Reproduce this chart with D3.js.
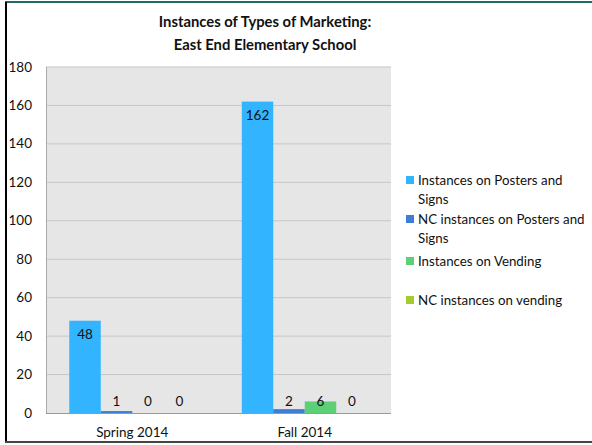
<!DOCTYPE html>
<html>
<head>
<meta charset="utf-8">
<script src="https://cdn.jsdelivr.net/npm/d3@7"></script>
<style>
  body { margin: 0; background: #fff; }
  text { font-family: Lato, "Open Sans", sans-serif; fill: #111; }
</style>
</head>
<body>
<div id="chart-area"></div>
<script>
var categories = ["Spring 2014", "Fall 2014"];
var seriesNames = ["Instances on Posters and Signs", "NC instances on Posters and Signs",
                   "Instances on Vending", "NC instances on vending"];
var posters = [48, 162];
var ncPosters = [1, 2];
var vending = [0, 6];
var ncVending = [0, 0];
var yTicks = [0, 20, 40, 60, 80, 100, 120, 140, 160, 180];
var colors = ["#33b4fe", "#3d7dd6", "#5dcf77", "#a5cb31"];

var values = [posters, ncPosters, vending, ncVending];

var svg = d3.select("#chart-area").append("svg")
    .attr("width", 592)
    .attr("height", 445);

// frame
svg.append("line").attr("x1", 5).attr("x2", 592).attr("y1", 2).attr("y2", 2)
    .attr("stroke", "#1e6b68").attr("stroke-width", 2);
svg.append("line").attr("x1", 6).attr("x2", 6).attr("y1", 2).attr("y2", 443)
    .attr("stroke", "#000").attr("stroke-width", 2);
svg.append("line").attr("x1", 5).attr("x2", 592).attr("y1", 442).attr("y2", 442)
    .attr("stroke", "#444").attr("stroke-width", 2);

var plotL = 46, plotR = 391, plotT = 67, plotB = 413;

var x = d3.scaleBand().domain(categories).range([plotL, plotR]);
var x1 = d3.scaleBand().domain(d3.range(4))
    .range([0, x.bandwidth()]).paddingOuter(0.74).paddingInner(0);
var y = d3.scaleLinear().domain([0, 180]).range([plotB, plotT]);

svg.append("rect").attr("x", plotL).attr("y", plotT)
    .attr("width", plotR - plotL).attr("height", plotB - plotT)
    .attr("fill", "#e6e6e6");

svg.selectAll(".grid").data(yTicks.slice(1)).enter().append("line")
    .attr("x1", plotL).attr("x2", plotR)
    .attr("y1", d => y(d)).attr("y2", d => y(d))
    .attr("stroke", "#c6c6c6").attr("stroke-width", 1);

svg.selectAll(".ytick").data(yTicks).enter().append("text")
    .attr("x", 32).attr("y", d => y(d) + 4.5)
    .attr("text-anchor", "end").attr("font-size", 13.5)
    .text(d => d);

var rows = [];
categories.forEach((c, i) => {
    values.forEach((s, j) => {
        rows.push({cat: c, k: j, v: s[i]});
    });
});

svg.selectAll(".bar").data(rows).enter().append("rect")
    .attr("x", d => x(d.cat) + x1(d.k))
    .attr("y", d => y(d.v))
    .attr("width", x1.bandwidth())
    .attr("height", d => plotB - y(d.v))
    .attr("fill", d => colors[d.k]);

svg.selectAll(".lbl").data(rows).enter().append("text")
    .attr("x", d => x(d.cat) + x1(d.k) + x1.bandwidth() / 2)
    .attr("y", d => Math.min(y(d.v) + 18, plotB - 7))
    .attr("text-anchor", "middle").attr("font-size", 13.5)
    .text(d => d.v);

// axes lines
svg.append("line").attr("x1", plotL).attr("x2", plotR)
    .attr("y1", plotB + 0.5).attr("y2", plotB + 0.5)
    .attr("stroke", "#999");
svg.append("line").attr("x1", plotL + 0.5).attr("x2", plotL + 0.5)
    .attr("y1", plotT).attr("y2", plotB)
    .attr("stroke", "#aaa");

svg.selectAll(".xlab").data(categories).enter().append("text")
    .attr("x", d => x(d) + x.bandwidth() / 2).attr("y", 437)
    .attr("text-anchor", "middle").attr("font-size", 13.5)
    .text(d => d);

// title
var title = svg.append("text").attr("text-anchor", "middle")
    .attr("font-size", 14.8).attr("font-weight", "bold");
title.append("tspan").attr("x", 265).attr("y", 27).text("Instances of Types of Marketing:");
title.append("tspan").attr("x", 265).attr("y", 50).text("East End Elementary School");

// legend
var legendY = [180, 219, 261, 300];
var legendLines = [["Instances on Posters and", "Signs"], ["NC instances on Posters and", "Signs"],
                   ["Instances on Vending"], ["NC instances on vending"]];
seriesNames.forEach((n, i) => {
    svg.append("rect").attr("x", 406).attr("y", legendY[i] - 4)
        .attr("width", 8).attr("height", 8).attr("fill", colors[i]);
    var t = svg.append("text").attr("font-size", 13.3);
    legendLines[i].forEach((ln, k) => {
        t.append("tspan").attr("x", 418).attr("y", legendY[i] + 4.5 + k * 19).text(ln);
    });
});
</script>
</body>
</html>
